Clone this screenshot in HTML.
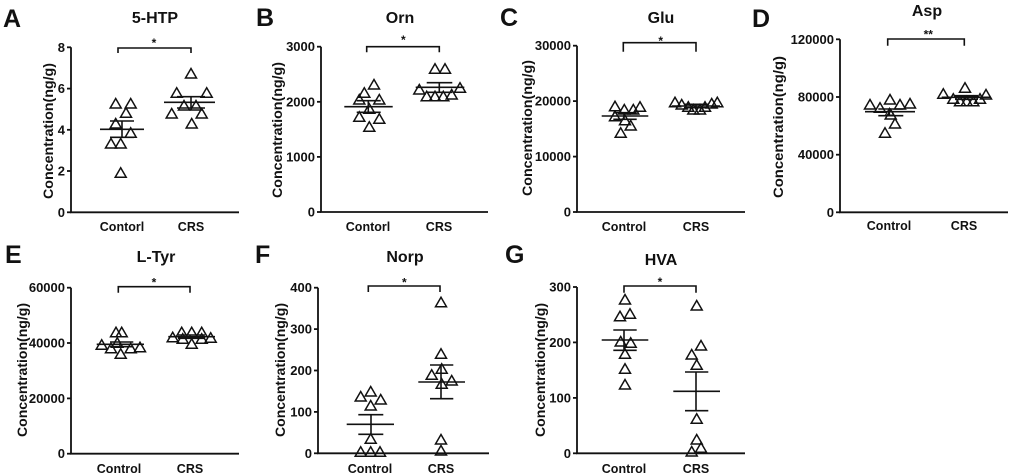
<!DOCTYPE html>
<html><head><meta charset="utf-8"><style>
html,body{margin:0;padding:0;background:#fff;}
svg{display:block;}
text{font-family:"Liberation Sans",Arial,sans-serif;font-weight:bold;fill:#111;}
.t{font-size:13px;}
.g{font-size:12.5px;}
.ti{font-size:16px;}
.pl{font-size:25px;}
.yl{font-size:14px;}
.st{font-size:12px;}
line,polyline,path{stroke:#111;fill:none;}
.ax{stroke-width:1.8;}
.eb{stroke-width:1.6;}
</style></head><body>
<svg width="1020" height="476" viewBox="0 0 1020 476" xmlns="http://www.w3.org/2000/svg">
<defs>
<path id="tri" d="M0,-5.5 L-5.5,4 L5.5,4 Z" stroke="#111" stroke-width="1.5" fill="none"/>
</defs>

<!-- Panel letters -->
<text class="pl" x="3" y="27">A</text>
<text class="pl" x="256" y="26">B</text>
<text class="pl" x="500" y="26">C</text>
<text class="pl" x="752" y="27">D</text>
<text class="pl" x="5" y="263">E</text>
<text class="pl" x="255" y="263">F</text>
<text class="pl" x="505" y="263">G</text>

<!-- ============ Panel A ============ -->
<text class="ti" x="155" y="23" text-anchor="middle">5-HTP</text>
<line class="ax" x1="71" y1="47.3" x2="71" y2="212.3"/>
<line class="ax" x1="70" y1="212.3" x2="239" y2="212.3"/>
<g class="ax">
<line x1="67" y1="47.3" x2="71" y2="47.3"/><line x1="67" y1="88.6" x2="71" y2="88.6"/>
<line x1="67" y1="129.8" x2="71" y2="129.8"/><line x1="67" y1="171" x2="71" y2="171"/>
<line x1="67" y1="212.3" x2="71" y2="212.3"/>
</g>
<g class="t" text-anchor="end">
<text x="65" y="51.8">8</text><text x="65" y="93.1">6</text><text x="65" y="134.3">4</text>
<text x="65" y="175.5">2</text><text x="65" y="216.8">0</text>
</g>
<text class="yl" transform="translate(53,131) rotate(-90)" text-anchor="middle" textLength="136" lengthAdjust="spacingAndGlyphs">Concentration(ng/g)</text>
<text class="g" x="122" y="231" text-anchor="middle">Contorl</text>
<text class="g" x="191" y="231" text-anchor="middle">CRS</text>
<polyline class="eb" points="118,53 118,48 191,48 191,53"/>
<text class="st" x="154" y="47" text-anchor="middle">*</text>
<g class="eb">
<line x1="100" y1="129.3" x2="144" y2="129.3"/><line x1="110" y1="121" x2="134" y2="121"/>
<line x1="110" y1="137.3" x2="134" y2="137.3"/><line x1="122" y1="121" x2="122" y2="137.3"/>
<line x1="164" y1="102.3" x2="215" y2="102.3"/><line x1="177" y1="96.7" x2="205" y2="96.7"/>
<line x1="177" y1="108" x2="205" y2="108"/><line x1="191" y1="96.7" x2="191" y2="108"/>
</g>
<g>
<use href="#tri" x="115.7" y="104"/><use href="#tri" x="130.7" y="104"/><use href="#tri" x="126" y="113.3"/>
<use href="#tri" x="115.7" y="124"/><use href="#tri" x="130.7" y="133.3"/><use href="#tri" x="111" y="144"/>
<use href="#tri" x="120.7" y="144"/><use href="#tri" x="120.7" y="173.3"/>
<use href="#tri" x="191" y="74"/><use href="#tri" x="176.7" y="93.3"/><use href="#tri" x="206.7" y="93.3"/>
<use href="#tri" x="184" y="106"/><use href="#tri" x="196" y="106"/><use href="#tri" x="171.7" y="114"/>
<use href="#tri" x="201.7" y="114"/><use href="#tri" x="191.7" y="124"/>
</g>

<!-- ============ Panel B ============ -->
<text class="ti" x="400" y="23" text-anchor="middle">Orn</text>
<line class="ax" x1="321" y1="46.7" x2="321" y2="212"/>
<line class="ax" x1="320" y1="212" x2="488" y2="212"/>
<g class="ax">
<line x1="317" y1="46.7" x2="321" y2="46.7"/><line x1="317" y1="101.8" x2="321" y2="101.8"/>
<line x1="317" y1="156.9" x2="321" y2="156.9"/><line x1="317" y1="212" x2="321" y2="212"/>
</g>
<g class="t" text-anchor="end">
<text x="315" y="51.2">3000</text><text x="315" y="106.3">2000</text>
<text x="315" y="161.4">1000</text><text x="315" y="216.5">0</text>
</g>
<text class="yl" transform="translate(282,130) rotate(-90)" text-anchor="middle" textLength="136" lengthAdjust="spacingAndGlyphs">Concentration(ng/g)</text>
<text class="g" x="368" y="231" text-anchor="middle">Contorl</text>
<text class="g" x="439" y="231" text-anchor="middle">CRS</text>
<polyline class="eb" points="366.7,52.3 366.7,46.7 439.3,46.7 439.3,52.3"/>
<text class="st" x="403.3" y="44" text-anchor="middle">*</text>
<g class="eb">
<line x1="344.3" y1="106.7" x2="392.7" y2="106.7"/><line x1="356.7" y1="100.7" x2="380.7" y2="100.7"/>
<line x1="356.7" y1="112.3" x2="380.7" y2="112.3"/><line x1="368.3" y1="100.7" x2="368.3" y2="112.3"/>
<line x1="415.7" y1="87.3" x2="464.3" y2="87.3"/><line x1="426.7" y1="82.7" x2="452.3" y2="82.7"/>
<line x1="426.7" y1="92.3" x2="452.3" y2="92.3"/><line x1="439.3" y1="82.7" x2="439.3" y2="92.3"/>
</g>
<g>
<use href="#tri" x="374" y="85"/><use href="#tri" x="364.3" y="93.3"/><use href="#tri" x="359.3" y="100"/>
<use href="#tri" x="379.3" y="100"/><use href="#tri" x="369.3" y="109.3"/><use href="#tri" x="359.3" y="117.3"/>
<use href="#tri" x="379.3" y="119.3"/><use href="#tri" x="369.3" y="127.3"/>
<use href="#tri" x="435" y="69.3"/><use href="#tri" x="445" y="69.3"/><use href="#tri" x="419.3" y="90"/>
<use href="#tri" x="426.7" y="96.7"/><use href="#tri" x="435" y="96.7"/><use href="#tri" x="443.3" y="96.7"/>
<use href="#tri" x="451.7" y="95"/><use href="#tri" x="460" y="88.3"/>
</g>

<!-- ============ Panel C ============ -->
<text class="ti" x="661" y="23" text-anchor="middle">Glu</text>
<line class="ax" x1="577" y1="45.7" x2="577" y2="212"/>
<line class="ax" x1="576" y1="212" x2="745" y2="212"/>
<g class="ax">
<line x1="573" y1="45.7" x2="577" y2="45.7"/><line x1="573" y1="101.1" x2="577" y2="101.1"/>
<line x1="573" y1="156.6" x2="577" y2="156.6"/><line x1="573" y1="212" x2="577" y2="212"/>
</g>
<g class="t" text-anchor="end">
<text x="571" y="50.2">30000</text><text x="571" y="105.6">20000</text>
<text x="571" y="161.1">10000</text><text x="571" y="216.5">0</text>
</g>
<text class="yl" transform="translate(532,128) rotate(-90)" text-anchor="middle" textLength="136" lengthAdjust="spacingAndGlyphs">Concentration(ng/g)</text>
<text class="g" x="624" y="231" text-anchor="middle">Control</text>
<text class="g" x="696" y="231" text-anchor="middle">CRS</text>
<polyline class="eb" points="623.3,51.7 623.3,42.7 696,42.7 696,51.7"/>
<text class="st" x="660.7" y="45" text-anchor="middle">*</text>
<g class="eb">
<line x1="601.7" y1="116" x2="648.3" y2="116"/><line x1="613.3" y1="112.7" x2="636.7" y2="112.7"/>
<line x1="613.3" y1="119.3" x2="636.7" y2="119.3"/><line x1="624" y1="112.7" x2="624" y2="119.3"/>
<line x1="671.7" y1="106" x2="720" y2="106"/><line x1="684" y1="104.3" x2="708" y2="104.3"/>
<line x1="684" y1="107.7" x2="708" y2="107.7"/><line x1="696" y1="104.3" x2="696" y2="107.7"/>
</g>
<g>
<use href="#tri" x="615" y="106.7"/><use href="#tri" x="624.3" y="110"/><use href="#tri" x="633.3" y="110"/>
<use href="#tri" x="640" y="107.3"/><use href="#tri" x="615" y="116.7"/><use href="#tri" x="625" y="120.7"/>
<use href="#tri" x="630.7" y="126"/><use href="#tri" x="620.7" y="133.3"/>
<use href="#tri" x="675" y="102.7"/><use href="#tri" x="681.7" y="105"/><use href="#tri" x="688.3" y="107.3"/>
<use href="#tri" x="693.3" y="110"/><use href="#tri" x="700" y="110"/><use href="#tri" x="705" y="107.3"/>
<use href="#tri" x="711.7" y="104"/><use href="#tri" x="717.3" y="102.7"/>
</g>

<!-- ============ Panel D ============ -->
<text class="ti" x="927" y="16" text-anchor="middle">Asp</text>
<line class="ax" x1="840" y1="39.3" x2="840" y2="212.3"/>
<line class="ax" x1="839" y1="212.3" x2="1008" y2="212.3"/>
<g class="ax">
<line x1="836" y1="39.3" x2="840" y2="39.3"/><line x1="836" y1="97" x2="840" y2="97"/>
<line x1="836" y1="154.7" x2="840" y2="154.7"/><line x1="836" y1="212.3" x2="840" y2="212.3"/>
</g>
<g class="t" text-anchor="end">
<text x="834" y="43.8">120000</text><text x="834" y="101.5">80000</text>
<text x="834" y="159.2">40000</text><text x="834" y="216.8">0</text>
</g>
<text class="yl" transform="translate(783,127) rotate(-90)" text-anchor="middle" textLength="142" lengthAdjust="spacingAndGlyphs">Concentration(ng/g)</text>
<text class="g" x="889" y="230" text-anchor="middle">Control</text>
<text class="g" x="964" y="230" text-anchor="middle">CRS</text>
<polyline class="eb" points="887.7,45.7 887.7,39 964.3,39 964.3,45.7"/>
<text class="st" x="928.3" y="38.5" text-anchor="middle">**</text>
<g class="eb">
<line x1="865" y1="111.7" x2="915" y2="111.7"/><line x1="878.3" y1="109" x2="903.3" y2="109"/>
<line x1="878.3" y1="115.7" x2="903.3" y2="115.7"/><line x1="889.3" y1="109" x2="889.3" y2="115.7"/>
<line x1="941.7" y1="97.3" x2="990" y2="97.3"/><line x1="955" y1="95.7" x2="978" y2="95.7"/>
<line x1="955" y1="99.3" x2="978" y2="99.3"/><line x1="964.3" y1="95.7" x2="964.3" y2="99.3"/>
</g>
<path d="M889.5,108 L885.5,115 L893.5,115 Z" fill="#111" stroke="#111" stroke-width="1"/>
<g>
<use href="#tri" x="870" y="105"/><use href="#tri" x="880" y="108.3"/><use href="#tri" x="890" y="100"/>
<use href="#tri" x="900" y="105"/><use href="#tri" x="910" y="104"/><use href="#tri" x="890.7" y="115"/>
<use href="#tri" x="895" y="124"/><use href="#tri" x="885" y="133.3"/>
<use href="#tri" x="965" y="88.3"/><use href="#tri" x="943.3" y="94.3"/><use href="#tri" x="953.3" y="99.3"/>
<use href="#tri" x="960" y="101.7"/><use href="#tri" x="966.7" y="101.7"/><use href="#tri" x="973.3" y="101.7"/>
<use href="#tri" x="980" y="99.3"/><use href="#tri" x="986" y="95"/>
</g>

<!-- ============ Panel E ============ -->
<text class="ti" x="156" y="262" text-anchor="middle">L-Tyr</text>
<line class="ax" x1="71" y1="287.7" x2="71" y2="453.7"/>
<line class="ax" x1="70" y1="453.7" x2="239" y2="453.7"/>
<g class="ax">
<line x1="67" y1="287.7" x2="71" y2="287.7"/><line x1="67" y1="343" x2="71" y2="343"/>
<line x1="67" y1="398.4" x2="71" y2="398.4"/><line x1="67" y1="453.7" x2="71" y2="453.7"/>
</g>
<g class="t" text-anchor="end">
<text x="65" y="292.2">60000</text><text x="65" y="347.5">40000</text>
<text x="65" y="402.9">20000</text><text x="65" y="458.2">0</text>
</g>
<text class="yl" transform="translate(27,370) rotate(-90)" text-anchor="middle" textLength="134" lengthAdjust="spacingAndGlyphs">Concentration(ng/g)</text>
<text class="g" x="119" y="473" text-anchor="middle">Control</text>
<text class="g" x="190" y="473" text-anchor="middle">CRS</text>
<polyline class="eb" points="118.3,292.7 118.3,286.7 190,286.7 190,292.7"/>
<text class="st" x="154" y="286.5" text-anchor="middle">*</text>
<g class="eb">
<line x1="96.7" y1="344.3" x2="144" y2="344.3"/><line x1="110" y1="342" x2="133.3" y2="342"/>
<line x1="110" y1="346.7" x2="133.3" y2="346.7"/><line x1="120" y1="342" x2="120" y2="346.7"/>
<line x1="168.3" y1="336.7" x2="215" y2="336.7"/><line x1="178" y1="335" x2="205" y2="335"/>
<line x1="178" y1="338.3" x2="205" y2="338.3"/><line x1="190" y1="335" x2="190" y2="338.3"/>
</g>
<g>
<use href="#tri" x="116" y="332.7"/><use href="#tri" x="121.7" y="332.7"/><use href="#tri" x="101.7" y="345.3"/>
<use href="#tri" x="117.3" y="343.3"/><use href="#tri" x="111" y="348.7"/><use href="#tri" x="130.7" y="348.7"/>
<use href="#tri" x="140" y="347.7"/><use href="#tri" x="120.7" y="354.3"/>
<use href="#tri" x="172.7" y="337.7"/><use href="#tri" x="181.7" y="332.7"/><use href="#tri" x="182.7" y="339.3"/>
<use href="#tri" x="191.7" y="332.7"/><use href="#tri" x="191.7" y="344.3"/><use href="#tri" x="201.7" y="332.7"/>
<use href="#tri" x="201.7" y="339.3"/><use href="#tri" x="210.7" y="338.3"/>
</g>

<!-- ============ Panel F ============ -->
<text class="ti" x="405" y="262" text-anchor="middle">Norp</text>
<line class="ax" x1="318" y1="287.7" x2="318" y2="453.3"/>
<line class="ax" x1="317" y1="453.3" x2="489" y2="453.3"/>
<g class="ax">
<line x1="314" y1="287.7" x2="318" y2="287.7"/><line x1="314" y1="329.1" x2="318" y2="329.1"/>
<line x1="314" y1="370.5" x2="318" y2="370.5"/><line x1="314" y1="411.9" x2="318" y2="411.9"/>
<line x1="314" y1="453.3" x2="318" y2="453.3"/>
</g>
<g class="t" text-anchor="end">
<text x="312" y="292.2">400</text><text x="312" y="333.6">300</text><text x="312" y="375">200</text>
<text x="312" y="416.4">100</text><text x="312" y="457.8">0</text>
</g>
<text class="yl" transform="translate(285,370) rotate(-90)" text-anchor="middle" textLength="134" lengthAdjust="spacingAndGlyphs">Concentration(ng/g)</text>
<text class="g" x="370" y="473" text-anchor="middle">Control</text>
<text class="g" x="441" y="473" text-anchor="middle">CRS</text>
<polyline class="eb" points="368.3,292 368.3,286 440,286 440,292"/>
<text class="st" x="404.3" y="286.5" text-anchor="middle">*</text>
<g class="eb">
<line x1="346.7" y1="424.3" x2="394" y2="424.3"/><line x1="358.3" y1="414.7" x2="383.3" y2="414.7"/>
<line x1="358.3" y1="434.3" x2="383.3" y2="434.3"/><line x1="371" y1="414.7" x2="371" y2="434.3"/>
<line x1="418.3" y1="382" x2="465" y2="382"/><line x1="430" y1="365" x2="453.3" y2="365"/>
<line x1="430" y1="398.7" x2="453.3" y2="398.7"/><line x1="441" y1="365" x2="441" y2="398.7"/>
</g>
<g>
<use href="#tri" x="360.7" y="397"/><use href="#tri" x="370.7" y="392"/><use href="#tri" x="380.7" y="400"/>
<use href="#tri" x="370.7" y="406"/><use href="#tri" x="370.7" y="439.3"/><use href="#tri" x="360.7" y="452.3"/>
<use href="#tri" x="370.7" y="452.3"/><use href="#tri" x="380" y="452.3"/>
<use href="#tri" x="441" y="302.7"/><use href="#tri" x="441" y="354.3"/><use href="#tri" x="431.7" y="375.3"/>
<use href="#tri" x="441.7" y="369.3"/><use href="#tri" x="441.7" y="384.3"/><use href="#tri" x="451.7" y="381"/>
<use href="#tri" x="441" y="440"/><use href="#tri" x="441" y="451"/>
</g>

<!-- ============ Panel G ============ -->
<text class="ti" x="661" y="265" text-anchor="middle">HVA</text>
<line class="ax" x1="577" y1="287" x2="577" y2="453.3"/>
<line class="ax" x1="576" y1="453.3" x2="745" y2="453.3"/>
<g class="ax">
<line x1="573" y1="287" x2="577" y2="287"/><line x1="573" y1="342.4" x2="577" y2="342.4"/>
<line x1="573" y1="397.9" x2="577" y2="397.9"/><line x1="573" y1="453.3" x2="577" y2="453.3"/>
</g>
<g class="t" text-anchor="end">
<text x="571" y="291.5">300</text><text x="571" y="346.9">200</text>
<text x="571" y="402.4">100</text><text x="571" y="457.8">0</text>
</g>
<text class="yl" transform="translate(545,370) rotate(-90)" text-anchor="middle" textLength="134" lengthAdjust="spacingAndGlyphs">Concentration(ng/g)</text>
<text class="g" x="624" y="473" text-anchor="middle">Control</text>
<text class="g" x="696" y="473" text-anchor="middle">CRS</text>
<polyline class="eb" points="624,292.7 624,286 696,286 696,292.7"/>
<text class="st" x="660" y="286" text-anchor="middle">*</text>
<g class="eb">
<line x1="601.7" y1="340" x2="648.3" y2="340"/><line x1="613.3" y1="330" x2="636.7" y2="330"/>
<line x1="613.3" y1="350.3" x2="636.7" y2="350.3"/><line x1="624" y1="330" x2="624" y2="350.3"/>
<line x1="673.3" y1="391.3" x2="720" y2="391.3"/><line x1="685" y1="372" x2="708.3" y2="372"/>
<line x1="685" y1="410.7" x2="708.3" y2="410.7"/><line x1="696" y1="372" x2="696" y2="410.7"/>
</g>
<g>
<use href="#tri" x="625" y="300"/><use href="#tri" x="620" y="316.7"/><use href="#tri" x="630" y="314.3"/>
<use href="#tri" x="620.7" y="342"/><use href="#tri" x="630.7" y="343.3"/><use href="#tri" x="625" y="354.3"/>
<use href="#tri" x="625" y="369.3"/><use href="#tri" x="625" y="385"/>
<use href="#tri" x="696.7" y="306"/><use href="#tri" x="701" y="346"/><use href="#tri" x="691.7" y="355"/>
<use href="#tri" x="696.7" y="365.3"/><use href="#tri" x="696.7" y="419.3"/><use href="#tri" x="696.7" y="440"/>
<use href="#tri" x="701" y="448.3"/><use href="#tri" x="691.7" y="452"/>
</g>
</svg>
</body></html>
